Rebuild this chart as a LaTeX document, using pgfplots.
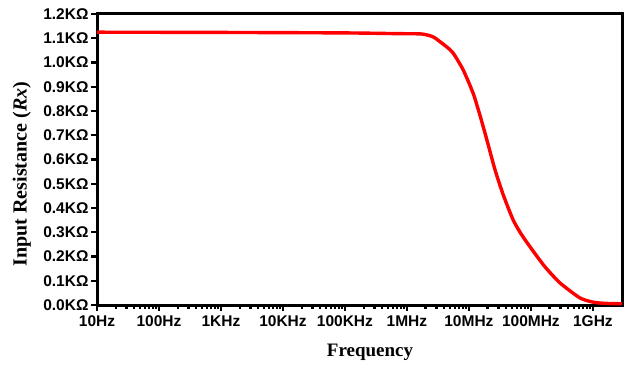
\documentclass[border=0pt]{standalone}
\usepackage{pgfplots}
\pgfplotsset{compat=1.18}
\usepackage{fontspec}
\setmainfont{Liberation Sans}
\newfontfamily\labelfont{Liberation Serif}
\begin{document}
\begin{tikzpicture}
\useasboundingbox (0,0) rectangle (626pt,370pt);
\begin{axis}[
  at={(97pt,65pt)}, anchor=south west,
  scale only axis, width=525pt, height=291pt,
  xmode=log, xmin=10, xmax=2.95e9,
  ymin=0, ymax=1.2,
  axis line style={line width=3pt},
  every tick/.style={black, line width=2.2pt},
  tick align=outside,
  major tick length=6pt, minor tick length=4pt,
  xtick={10,100,1e3,1e4,1e5,1e6,1e7,1e8,1e9},
  xticklabels={10Hz,100Hz,1KHz,10KHz,100KHz,1MHz,10MHz,100MHz,1GHz},
  ytick={0,0.1,0.2,0.3,0.4,0.5,0.6,0.7,0.8,0.9,1.0,1.1,1.2},
  yticklabels={0.0KΩ,0.1KΩ,0.2KΩ,0.3KΩ,0.4KΩ,0.5KΩ,0.6KΩ,0.7KΩ,0.8KΩ,0.9KΩ,1.0KΩ,1.1KΩ,1.2KΩ},
  yminorticks=false,
  xtick pos=bottom, ytick pos=left,
  tick label style={font=\fontsize{15.5}{17}\selectfont\bfseries},
  xticklabel style={yshift=-1pt},
  yticklabel style={xshift=1pt},
  xlabel={\labelfont\bfseries Frequency},
  ylabel={\labelfont\bfseries Input Resistance (\textit{Rx})},
  xlabel style={font=\fontsize{19}{21}\selectfont, at={(axis description cs:0.52,-0.162)}, anchor=center},
  ylabel style={font=\fontsize{20}{22}\selectfont, at={(axis description cs:-0.143,0.45)}, anchor=center},
]
\addplot[red, line width=3.4pt, smooth, tension=0.4] coordinates {
(10,1.125) (1e3,1.124) (1e5,1.122) (7e5,1.119) (1.74e6,1.1175)
(2.63e6,1.106) (3.4e6,1.086) (4.5e6,1.062) (5.6e6,1.038) (8.1e6,0.969)
(1.17e7,0.873) (1.5e7,0.784) (1.93e7,0.685) (2.62e7,0.56)
(3.57e7,0.455) (5.19e7,0.35) (7.08e7,0.29) (1.0e8,0.235)
(1.68e8,0.158) (2.95e8,0.091) (6.2e8,0.029) (1e9,0.012)
(1.5e9,0.007) (2.95e9,0.005)
};
\end{axis}
\end{tikzpicture}
\end{document}
